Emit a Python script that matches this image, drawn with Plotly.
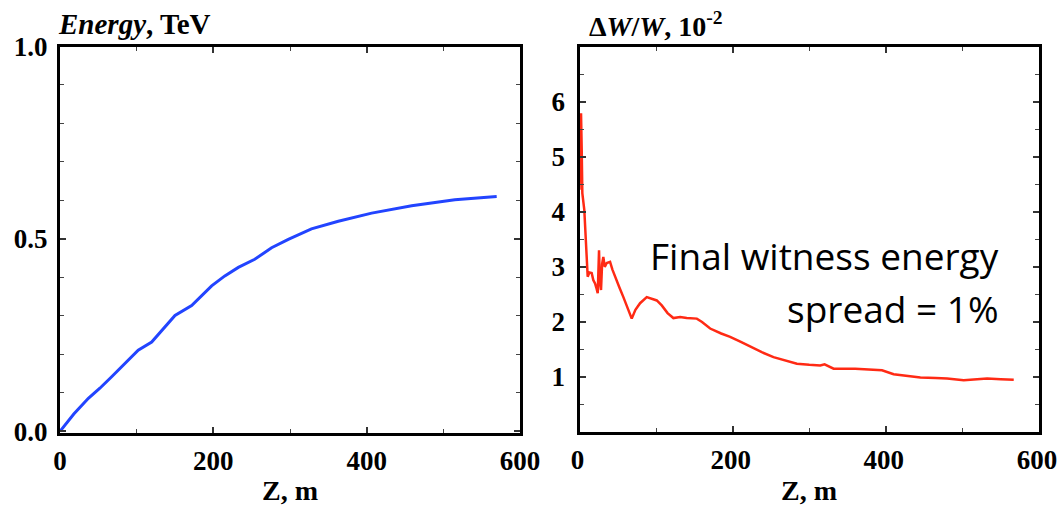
import plotly.graph_objects as go

# Left panel: witness energy (TeV) vs Z (m)
z_energy = [0, 18, 37, 52, 67.4, 85, 102, 119.6, 135, 150, 171.7, 185, 197.8, 215, 232.6, 254,
            276, 297.8, 328, 363, 406.5, 458.7, 515, 569.6]
energy_tev = [0.0, 0.045, 0.086, 0.112, 0.142, 0.178, 0.211, 0.232, 0.268, 0.301, 0.327, 0.352,
              0.378, 0.404, 0.426, 0.447, 0.477, 0.499, 0.526, 0.546, 0.567, 0.586, 0.602, 0.610]

# Right panel: relative energy spread (10^-2) vs Z (m)
z_spread = [0, 1, 2, 2.9, 3.7, 6.3, 8.1, 10.7, 13, 15.9, 18, 20.3, 22, 23.8, 25.5, 26.5, 28.1,
            29.5, 31.1, 33, 35.6, 39.9, 43, 46.4, 52, 57.3, 63, 68.2, 73, 79.1, 87.8, 95, 100.9,
            107.4, 115, 122.6, 131.4, 140, 153.2, 160, 170.6, 185, 196.7, 210, 222.9, 238,
            253.3, 270, 283.9, 300, 314.4, 320, 331.8, 360, 384, 395, 410.2, 430, 445.1, 465,
            480, 501.7, 515, 532.3, 550, 567]
spread_pct = [4.4, 5.3, 5.79, 5.12, 4.34, 4.03, 3.49, 2.82, 2.9, 2.89, 2.76, 2.70, 2.62, 2.52,
              3.30, 2.75, 2.58, 3.05, 3.18, 3.0, 3.07, 3.09, 2.95, 2.82, 2.63, 2.45, 2.26, 2.06,
              2.22, 2.34, 2.45, 2.41, 2.39, 2.30, 2.16, 2.07, 2.09, 2.07, 2.06, 2.0, 1.88, 1.79,
              1.73, 1.64, 1.55, 1.45, 1.36, 1.29, 1.24, 1.22, 1.21, 1.23, 1.15, 1.15, 1.13, 1.12,
              1.05, 1.02, 0.99, 0.98, 0.97, 0.94, 0.95, 0.97, 0.96, 0.95]

x_ticks = [0, 200, 400, 600]
left_y_ticks = [0.0, 0.5, 1.0]
left_y_labels = ["0.0", "0.5", "1.0"]
right_y_ticks = [1, 2, 3, 4, 5, 6]

W, H = 1061, 512
serif = "Liberation Serif, Times New Roman, serif"
tick_font = dict(family=serif, size=27, color="black", weight="bold")

fig = go.Figure()
fig.add_trace(go.Scatter(x=z_energy, y=energy_tev, mode="lines",
                         line=dict(color="#2244ff", width=3),
                         xaxis="x", yaxis="y", showlegend=False))
fig.add_trace(go.Scatter(x=z_spread, y=spread_pct, mode="lines",
                         line=dict(color="#ff2a14", width=2.5), xaxis="x2", yaxis="y2",
                         showlegend=False))

axis_common = dict(showline=True, linecolor="black", linewidth=3, mirror="allticks",
                   ticks="inside", ticklen=6, tickwidth=1.5, tickcolor="#333",
                   showgrid=False, zeroline=False, tickfont=tick_font, automargin=False)

def minor(d):
    return dict(dtick=d, ticks="inside", ticklen=4, tickwidth=1.2, tickcolor="#444")

fig.update_layout(
    width=W, height=H,
    margin=dict(l=0, r=0, t=0, b=0),
    plot_bgcolor="white", paper_bgcolor="white",
    xaxis=dict(domain=[60 / W, 520 / W], range=[0, 600], tickvals=x_ticks, minor=minor(100),
               anchor="y", ticklabelstandoff=2, **axis_common),
    yaxis=dict(domain=[(H - 432.5) / H, (H - 46.5) / H], range=[-0.003, 1.0],
               tickvals=left_y_ticks, ticktext=left_y_labels, minor=minor(0.1),
               anchor="x", ticklabelstandoff=4, **axis_common),
    xaxis2=dict(domain=[579.5 / W, 1039 / W], range=[0, 600], tickvals=x_ticks, minor=minor(100),
                anchor="y2", ticklabelstandoff=2, ticklabelshift=-2, **axis_common),
    yaxis2=dict(domain=[(H - 432) / H, (H - 46.7) / H], range=[0, 7.0],
                tickvals=right_y_ticks, minor=minor(0.5),
                anchor="x2", ticklabelstandoff=6, **axis_common),
)

title_font = dict(family=serif, size=28, color="black")
sans = dict(family="Open Sans, sans-serif", size=37, color="black")
annotations = [
    dict(text="<b><i>Energy</i>, TeV</b>", x=56 / W, y=1 - 24 / H, xref="paper", yref="paper",
         xanchor="left", yanchor="middle", showarrow=False,
         font=dict(family=serif, size=29, color="black")),
    dict(text="<b>Δ<i>W</i>/<i>W</i>, 10<sup>-2</sup></b>", x=587 / W, y=1 - 24 / H,
         xref="paper", yref="paper", xanchor="left", yanchor="middle", showarrow=False,
         font=title_font),
    dict(text="<b>Z, m</b>", x=290 / W, y=1 - 490 / H, xref="paper", yref="paper",
         xanchor="center", yanchor="middle", showarrow=False, font=title_font),
    dict(text="<b>Z, m</b>", x=809 / W, y=1 - 490 / H, xref="paper", yref="paper",
         xanchor="center", yanchor="middle", showarrow=False, font=title_font),
    dict(text="Final witness energy", x=1001 / W, y=1 - 255 / H,
         xref="paper", yref="paper", xanchor="right", yanchor="middle",
         showarrow=False, font=sans),
    dict(text="spread = 1%", x=1001 / W, y=1 - 308 / H,
         xref="paper", yref="paper", xanchor="right", yanchor="middle",
         showarrow=False, font=sans),
]
fig.update_layout(annotations=annotations)

# The page's default 8px body margin would push the 1061x512 figure out of the window.
fig.write_html("out.html", config={"displayModeBar": False},
               post_script="document.body.style.margin='0';")
